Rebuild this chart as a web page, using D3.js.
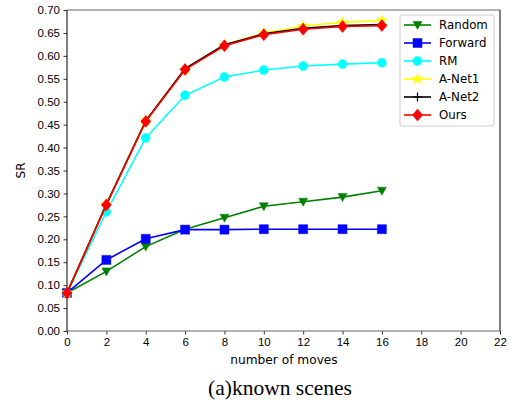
<!DOCTYPE html>
<html>
<head>
<meta charset="utf-8">
<script src="https://cdn.jsdelivr.net/npm/d3@7/dist/d3.min.js"></script>
<style>
  body { margin: 0; background: #fff; }
  svg { display: block; font-family: "DejaVu Sans", sans-serif; }
</style>
</head>
<body>
<svg width="515" height="407"></svg>
<script>
// данные
const moves = [0, 2, 4, 6, 8, 10, 12, 14, 16];
const seriesNames = ["Random", "Forward", "RM", "A-Net1", "A-Net2", "Ours"];
const randomSR  = [0.083, 0.130, 0.184, 0.222, 0.247, 0.272, 0.282, 0.292, 0.306];
const forwardSR = [0.083, 0.155, 0.201, 0.221, 0.221, 0.222, 0.222, 0.222, 0.222];
const rmSR      = [0.083, 0.260, 0.421, 0.514, 0.554, 0.569, 0.578, 0.582, 0.585];
const anet1SR   = [0.083, 0.276, 0.458, 0.571, 0.624, 0.650, 0.665, 0.673, 0.677];
const anet2SR   = [0.083, 0.276, 0.458, 0.572, 0.624, 0.648, 0.660, 0.666, 0.668];
const oursSR    = [0.083, 0.275, 0.457, 0.570, 0.622, 0.646, 0.658, 0.664, 0.666];
const xTicks = d3.range(0, 23, 2);
const yTicks = d3.range(0, 0.701, 0.05);

const series = [
    { name: seriesNames[0], values: randomSR,  color: "#008000", marker: "tri" },
    { name: seriesNames[1], values: forwardSR, color: "#0000ff", marker: "square" },
    { name: seriesNames[2], values: rmSR,      color: "#00ffff", marker: "circle" },
    { name: seriesNames[3], values: anet1SR,   color: "#ffff00", marker: "star" },
    { name: seriesNames[4], values: anet2SR,   color: "#000000", marker: "plus" },
    { name: seriesNames[5], values: oursSR,    color: "#ff0000", marker: "diamond" }
];

const svg = d3.select("svg");
const area = { left: 67, right: 500, top: 10, bottom: 331 };

const scX = d3.scaleLinear().domain([0, 22]).range([area.left, area.right]);
const scY = d3.scaleLinear().domain([0, 0.7]).range([area.bottom, area.top]);

// оси
const axisX = d3.axisBottom(scX).tickValues(xTicks).tickSize(3.5).tickPadding(3.5).tickFormat(d3.format("d"));
const axisY = d3.axisLeft(scY).tickValues(yTicks).tickSize(3.5).tickPadding(3.5).tickFormat(d3.format(".2f"));

const gx = svg.append("g").attr("transform", `translate(0, ${area.bottom})`).call(axisX);
const gy = svg.append("g").attr("transform", `translate(${area.left}, 0)`).call(axisY);
[gx, gy].forEach(g => {
    g.select(".domain").remove();
    g.selectAll("text").style("font-size", "11.5px").attr("fill", "#000");
    g.selectAll("line").attr("stroke", "#000").attr("stroke-width", 0.8);
});

// рамка
svg.append("line").attr("x1", area.left).attr("x2", area.right).attr("y1", area.top).attr("y2", area.top)
    .attr("stroke", "#666").attr("stroke-width", 1);
svg.append("line").attr("x1", area.left).attr("x2", area.right).attr("y1", area.bottom).attr("y2", area.bottom)
    .attr("stroke", "#666").attr("stroke-width", 1);
svg.append("line").attr("x1", area.left).attr("x2", area.left).attr("y1", area.top).attr("y2", area.bottom)
    .attr("stroke", "#000").attr("stroke-width", 1);
svg.append("line").attr("x1", area.right).attr("x2", area.right).attr("y1", area.top).attr("y2", area.bottom)
    .attr("stroke", "#000").attr("stroke-width", 1);

function markerPath(type) {
    if (type === "tri") return "M-4.5,-3.5L4.5,-3.5L0,4.5Z";
    if (type === "square") return "M-4.5,-4.5H4.5V4.5H-4.5Z";
    if (type === "diamond") return "M0,-6L5,0L0,6L-5,0Z";
    if (type === "star") return d3.symbol(d3.symbolStar, 40)();
    if (type === "plus") return "M-4.5,0H4.5M0,-4.5V4.5";
    return null;
}

function drawMarker(g, type, color) {
    if (type === "circle") {
        g.append("circle").attr("r", 4.5).attr("fill", color).attr("stroke", color).attr("stroke-opacity", 0.5);
    } else if (type === "plus") {
        g.append("path").attr("d", markerPath(type)).attr("stroke", color).attr("stroke-width", 1.2).attr("fill", "none");
    } else {
        g.append("path").attr("d", markerPath(type)).attr("fill", color)
            .attr("stroke", color).attr("stroke-opacity", 0.5).attr("stroke-width", 1);
    }
}

const lineGen = d3.line().x((d, i) => scX(moves[i])).y(d => scY(d));

series.forEach(s => {
    svg.append("path")
        .attr("d", lineGen(s.values))
        .attr("fill", "none")
        .attr("stroke", s.color)
        .attr("stroke-width", 1.6);
    s.values.forEach((v, i) => {
        const g = svg.append("g").attr("transform", `translate(${scX(moves[i])}, ${scY(v)})`);
        drawMarker(g, s.marker, s.color);
    });
});

// подписи осей
svg.append("text")
    .attr("x", 284)
    .attr("y", 364)
    .attr("text-anchor", "middle")
    .style("font-size", "12.2px")
    .text("number of moves");

svg.append("text")
    .attr("transform", `translate(25, ${(area.top + area.bottom) / 2}) rotate(-90)`)
    .attr("text-anchor", "middle")
    .style("font-size", "12px")
    .text("SR");

svg.append("text")
    .attr("x", 280)
    .attr("y", 395)
    .attr("text-anchor", "middle")
    .style("font-family", "'Liberation Serif', serif")
    .style("font-size", "21.5px")
    .text("(a)known scenes");

// легенда
const legend = svg.append("g");
legend.append("rect")
    .attr("x", 400).attr("y", 15).attr("width", 94).attr("height", 111)
    .attr("rx", 2)
    .attr("fill", "#fff").attr("fill-opacity", 0.8)
    .attr("stroke", "#ccc");

series.forEach((s, i) => {
    const y = 25 + i * 18;
    legend.append("line")
        .attr("x1", 404).attr("x2", 431).attr("y1", y).attr("y2", y)
        .attr("stroke", s.color).attr("stroke-width", 1.6);
    const g = legend.append("g").attr("transform", `translate(417.5, ${y})`);
    drawMarker(g, s.marker, s.color);
    legend.append("text")
        .attr("x", 439).attr("y", y + 4)
        .style("font-size", "11.8px")
        .text(s.name);
});
</script>
</body>
</html>
